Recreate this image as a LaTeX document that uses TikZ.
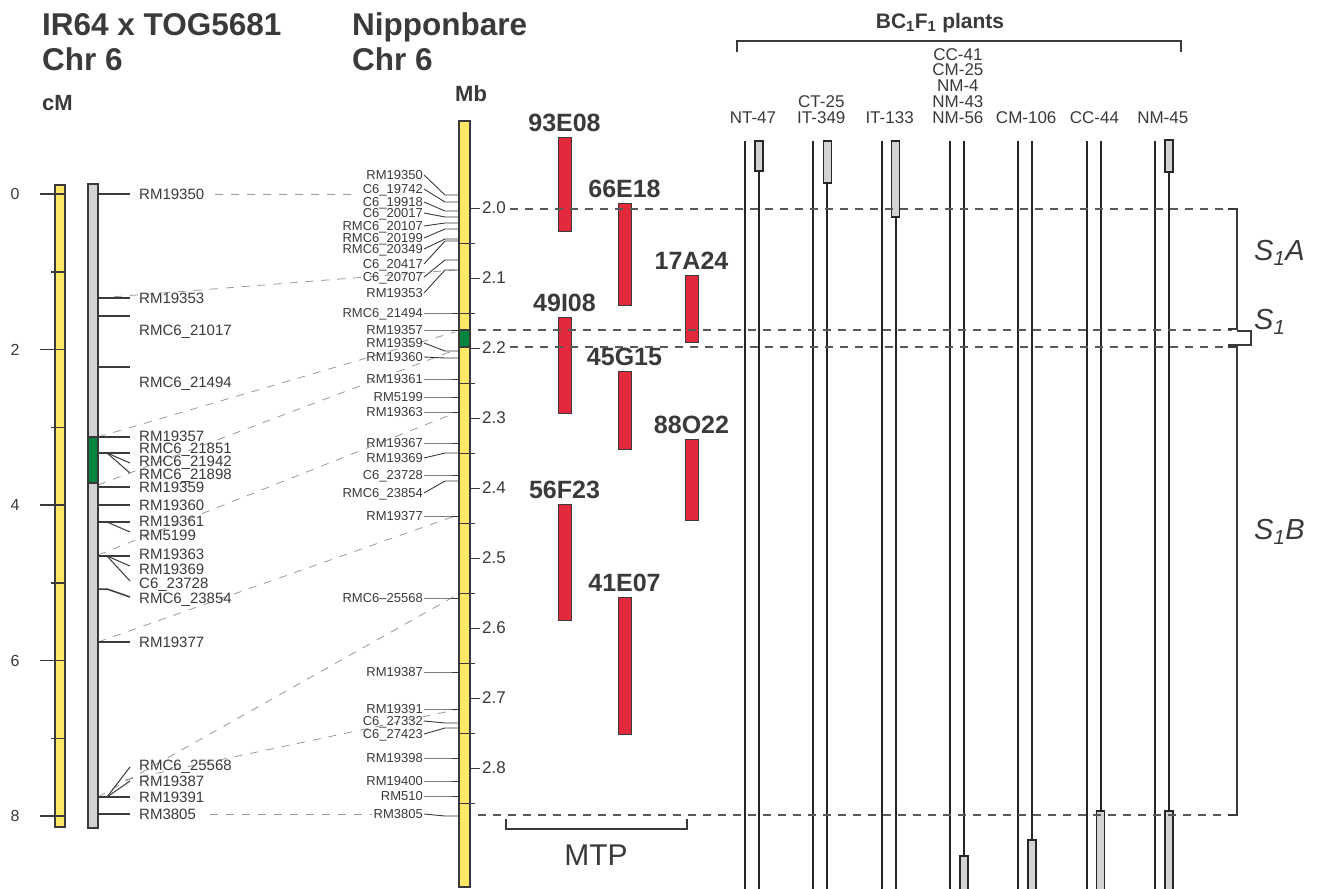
\documentclass[tikz,border=0pt]{standalone}
\usepackage{fontspec}
\setmainfont{Liberation Sans}
\usetikzlibrary{positioning}
\definecolor{chryel}{HTML}{FFE866}
\definecolor{chrgray}{HTML}{D1D3D4}
\definecolor{chrgreen}{HTML}{00853F}
\definecolor{bacred}{HTML}{E32A3D}
\definecolor{ink}{HTML}{3A3A3A}
\tikzset{
  chrbar/.style={draw=ink, line width=1.5pt},
  tick/.style={draw=ink, line width=1.5pt},
  fan/.style={draw=ink, line width=1pt},
  leader/.style={draw=ink, line width=0.9pt},
  link/.style={draw=black!40, line width=0.8pt, dash pattern=on 8pt off 8pt},
  cut/.style={draw=black!65, line width=1.4pt, dash pattern=on 8pt off 7pt},
  ttl/.style={font=\fontsize{31.5}{31.5}\selectfont\bfseries, text=ink, inner sep=0pt, anchor=base west},
  unit/.style={font=\fontsize{22}{22}\selectfont\bfseries, text=ink, inner sep=0pt, anchor=base west},
  lmark/.style={font=\fontsize{15}{15}\selectfont, text=ink, inner sep=0pt, anchor=west, text depth=0pt},
  rmark/.style={font=\fontsize{13}{13}\selectfont, text=ink, inner sep=0pt, anchor=east, text depth=0pt},
  scalelab/.style={font=\fontsize{17}{17}\selectfont, text=ink, inner sep=0pt},
  bac/.style={fill=bacred, draw=ink, line width=0.8pt},
  baclab/.style={font=\fontsize{25}{25}\selectfont\bfseries, text=ink, inner sep=0pt, anchor=base},
  plant/.style={draw=black!85, line width=2pt},
  segbox/.style={fill=chrgray, draw=black!85, line width=1.5pt},
  plab/.style={font=\fontsize{17}{17}\selectfont, text=ink, inner sep=0pt, anchor=base},
  slab/.style={font=\fontsize{29}{29}\selectfont\itshape, text=ink, inner sep=0pt, anchor=west},
}
\begin{document}
\begin{tikzpicture}[x=1pt,y=-1pt]
\clip (0,0) rectangle (1318,889);
\fill[white] (0,0) rectangle (1318,889);

% titles
\node[ttl] (ttlL) at (42,35) {IR64 x TOG5681};
\node[ttl] (chrL) at (42,70) {Chr 6};
\node[ttl] (ttlR) at (352,35) {Nipponbare};
\node[ttl] (chrR) at (352,70) {Chr 6};
\node[unit] (cm) at (42,110) {cM};
\node[unit] (mb) at (455,101) {Mb};

% links between the two maps
\draw[link] (215,194) -- (352,194);
\draw[link] (98,298) -- (455,270);
\draw[link] (98,437) -- (455,332);
\draw[link] (98,485) -- (455,350);
\draw[link] (98,555) -- (455,413);
\draw[link] (98,642) -- (455,516);
\draw[link] (98,797) -- (455,596);
\draw[link] (125,780) -- (455,710);
\draw[link] (210,814) -- (372,814);

% cM scale
\draw[chrbar, fill=chryel] (55,185) rectangle (65,827);
\foreach \k in {0,2,4,6,8}{
  \draw[tick] (40,{194+77.75*\k}) -- (65,{194+77.75*\k});
  \node[scalelab, font=\fontsize{16}{16}\selectfont] (cm\k) at (15,{194+77.75*\k}) {\k};
}
\foreach \k in {1,3,5,7}
  \draw[tick] (51,{194+77.75*\k}) -- (65,{194+77.75*\k});

% genetic map
\draw[chrbar, fill=chrgray] (88,184) rectangle (98,828);
\draw[chrbar, fill=chrgreen] (88,437) rectangle (98,483);
\foreach \y in {194,298,316,367,437,453,487,505,522,556,642,797,814}
  \draw[tick] (98,\y) -- (130,\y);
\draw[tick] (98,589) -- (107,589) -- (130,597);
\draw[fan] (107,453) -- (130,463);
\draw[fan] (107,453) -- (130,473);
\draw[fan] (107,522) -- (130,532);
\draw[fan] (107,556) -- (130,566);
\draw[fan] (107,556) -- (130,581);
\draw[fan] (107,797) -- (130,767);
\draw[fan] (107,797) -- (130,781);
\foreach \t/\y [count=\i] in {RM19350/194, RM19353/298, RMC6\_21017/330, RMC6\_21494/382,
    RM19357/436, RMC6\_21851/448, RMC6\_21942/461, RMC6\_21898/474, RM19359/487,
    RM19360/505, RM19361/521, RM5199/535, RM19363/554, RM19369/569, C6\_23728/583,
    RMC6\_23854/598, RM19377/642, RMC6\_25568/765, RM19387/781, RM19391/797, RM3805/814}
  \node[lmark] (lm\i) at (139,\y) {\t};

% physical map
\draw[chrbar, fill=chryel] (459,121) rectangle (470,887);
\draw[chrbar, fill=chrgreen] (459,330) rectangle (470,347);
\foreach \k in {0,...,8}{
  \draw[leader] (470,{208+70*\k}) -- (480,{208+70*\k});
  \draw[leader] (459,{243+70*\k}) -- (475,{243+70*\k});
  \node[scalelab, anchor=west] (mb\k) at (482,{208+70*\k}) {2.\k};
}
\foreach \t/\ly/\by [count=\i] in {RM19350/175/195, C6\_19742/189/202, C6\_19918/202/211,
    C6\_20017/213/217, RMC6\_20107/226/223, RMC6\_20199/238/229, RMC6\_20349/249/239,
    C6\_20417/264/241, C6\_20707/277/260, RM19353/293/270, RMC6\_21494/313/313,
    RM19357/330/330, RM19359/343/351, RM19360/357/358, RM19361/379/379, RM5199/397/397,
    RM19363/412/412, RM19367/443/443, RM19369/458/453, C6\_23728/475/475,
    RMC6\_23854/493/481, RM19377/516/516, RMC6–25568/598/598, RM19387/672/672,
    RM19391/709/709, C6\_27332/721/723, C6\_27423/734/728, RM19398/758/758,
    RM19400/781/781, RM510/796/796, RM3805/814/816}{
  \node[rmark] (rm\i) at (423,\ly) {\t};
  \draw[leader] ([xshift=1pt]rm\i.east) -- (445,\by) -- (459,\by);
}

% BAC contig
\foreach \n/\x/\ya/\yb in {93E08/558/137/231, 66E18/618/203/305, 17A24/685/275/342,
    49I08/558/317/413, 45G15/618/371/449, 88O22/685/439/520, 56F23/558/504/620,
    41E07/618/597/734}{
  \draw[bac] (\x,\ya) rectangle ({\x+13},\yb);
  \node[baclab] (bac\n) at ({\x+6.5},{\ya-6}) {\n};
}
\draw[tick, line width=1.2pt] (506,819) -- (506,829) -- (687,829) -- (687,819);
\node[font=\fontsize{30}{30}\selectfont, text=ink, inner sep=0pt] (mtp) at (596,855) {MTP};

% BC1F1 plants
\foreach \i in {0,...,6}{
  \draw[plant] ({745+68.3*\i},141) -- ({745+68.3*\i},895);
  \draw[plant] ({759+68.3*\i},141) -- ({759+68.3*\i},895);
}
\foreach \i/\ya/\yb in {0/141/171, 1/141/183, 2/141/217, 6/140/172,
    3/856/900, 4/840/900, 5/811/900, 6/811/900}
  \draw[segbox] ({755+68.3*\i},\ya) rectangle ({763+68.3*\i},\yb);
\foreach \t/\i/\r in {NT-47/0/0, CT-25/1/1, IT-349/1/0, IT-133/2/0, CC-41/3/4,
    CM-25/3/3, NM-4/3/2, NM-43/3/1, NM-56/3/0, CM-106/4/0, CC-44/5/0, NM-45/6/0}
  \node[plab] at ({753+68.3*\i},{123-15.7*\r}) {\t};
\node[font=\fontsize{21}{21}\selectfont\bfseries, text=ink, inner sep=0pt, anchor=base]
  (bcttl) at (940,28) {BC\textsubscript{1}F\textsubscript{1} plants};
\draw[tick, line width=1.2pt] (737,52) -- (737,41) -- (1181,41) -- (1181,52);

% recombination intervals
\draw[cut] (510,209) -- (1232,209);
\draw[cut] (478,330) -- (1232,330);
\draw[cut] (510,347) -- (1232,347);
\draw[cut] (478,815) -- (1232,815);
\draw[tick, line width=1.2pt] (1228,209) -- (1237,209) -- (1237,329) -- (1228,329);
\draw[tick, line width=1.2pt] (1237,331) -- (1251,331) -- (1251,345) -- (1228,345);
\draw[tick, line width=1.2pt] (1228,347) -- (1237,347) -- (1237,815) -- (1228,815);
\node[slab] (s1a) at (1254,253) {S\textsubscript{1}A};
\node[slab] (s1) at (1254,322) {S\textsubscript{1}};
\node[slab] (s1b) at (1254,532) {S\textsubscript{1}B};
\end{tikzpicture}
\end{document}
